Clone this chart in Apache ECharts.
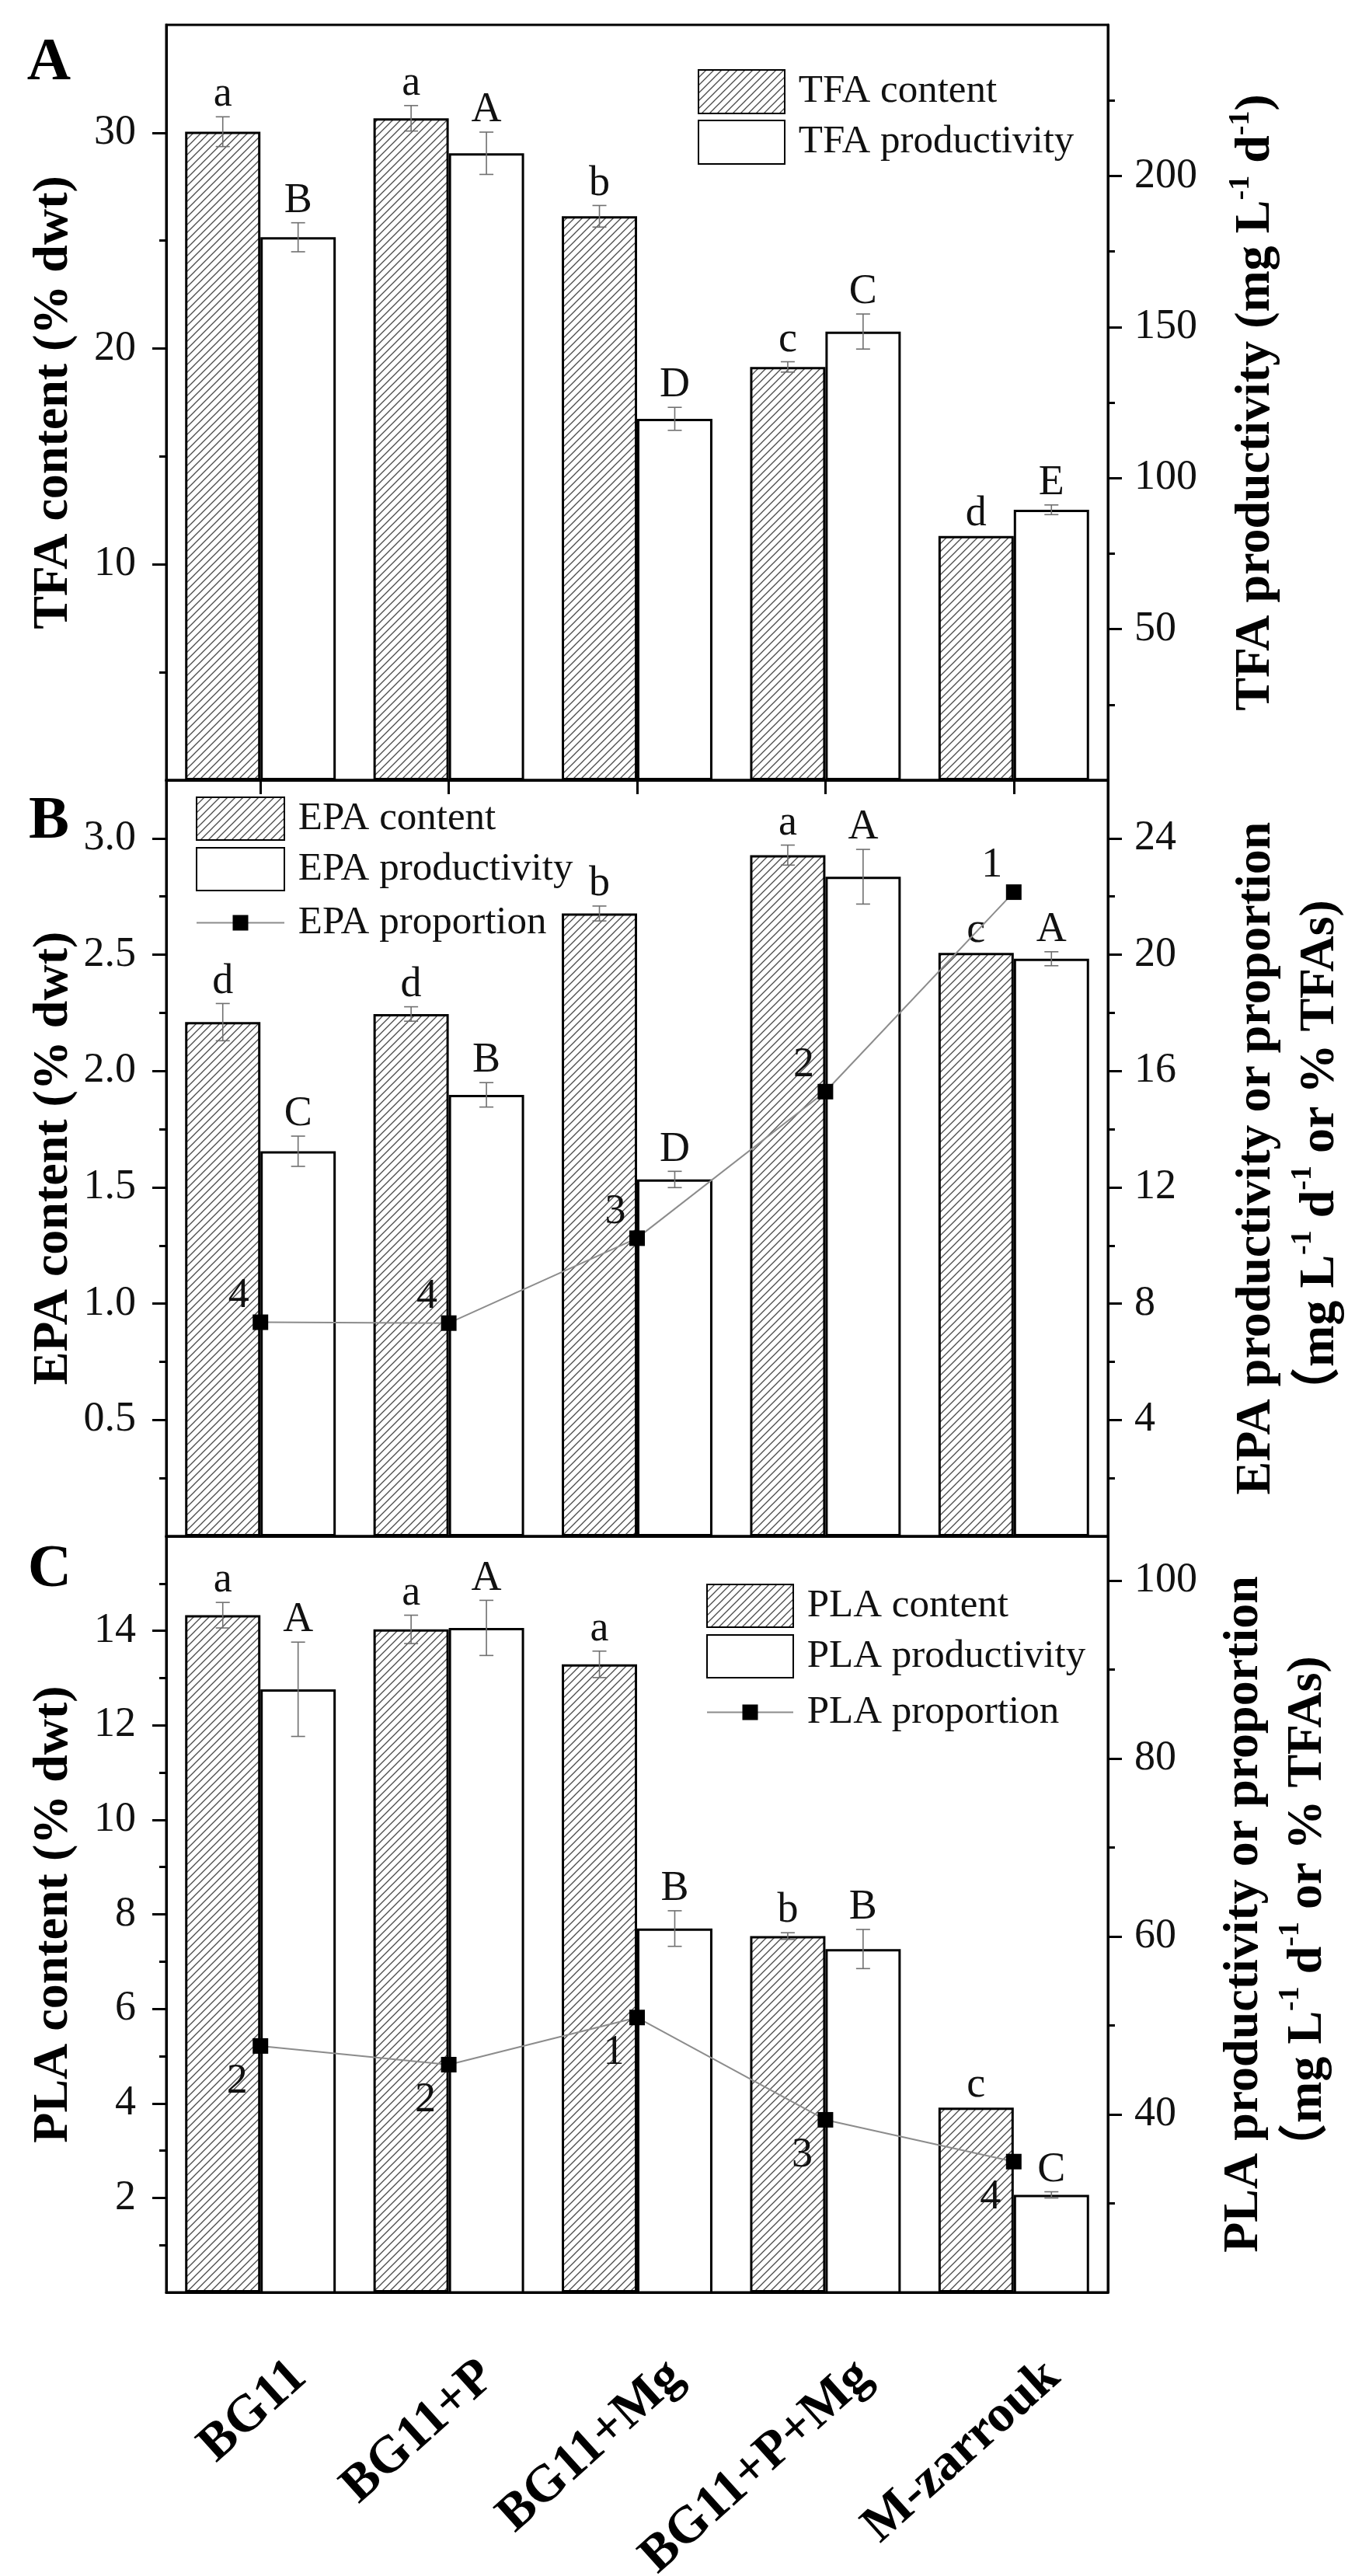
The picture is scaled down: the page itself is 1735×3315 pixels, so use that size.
<!DOCTYPE html>
<html><head><meta charset="utf-8">
<script src="https://cdn.jsdelivr.net/npm/echarts@6/dist/echarts.min.js"></script>
<style>html,body{margin:0;padding:0;background:#fff}#c{width:1735px;height:3315px}</style>
</head><body><div id="c"></div>
<script>
// ---------------- data ----------------
const categories = ['BG11', 'BG11+P', 'BG11+Mg', 'BG11+P+Mg', 'M-zarrouk'];

// Panel A
const tfaContent = [30.05, 30.67, 26.13, 19.15, 11.32];
const tfaContentErr = [0.69, 0.59, 0.5, 0.24, 0];
const tfaContentLetters = ['a', 'a', 'b', 'c', 'd'];
const tfaProd = [179.7, 207.5, 119.6, 148.5, 89.5];
const tfaProdErr = [4.8, 7.0, 3.8, 5.8, 1.6];
const tfaProdLetters = ['B', 'A', 'D', 'C', 'E'];

// Panel B
const epaContent = [2.21, 2.245, 2.677, 2.928, 2.508];
const epaContentErr = [0.08, 0.031, 0.032, 0.043, 0];
const epaContentLetters = ['d', 'd', 'b', 'a', 'c'];
const epaProd = [13.24, 15.18, 12.27, 22.68, 19.86];
const epaProdErr = [0.52, 0.42, 0.28, 0.94, 0.24];
const epaProdLetters = ['C', 'B', 'D', 'A', 'A'];
const epaProp = [7.36, 7.33, 10.25, 15.29, 22.15];
const epaPropRank = ['4', '4', '3', '2', '1'];

// Panel C
const plaContent = [14.33, 14.03, 13.29, 7.54, 3.91];
const plaContentErr = [0.27, 0.3, 0.28, 0.07, 0];
const plaContentLetters = ['a', 'a', 'a', 'b', 'c'];
const plaProd = [87.8, 94.7, 60.9, 58.6, 30.96];
const plaProdErr = [5.3, 3.1, 2.0, 2.2, 0.35];
const plaProdLetters = ['A', 'A', 'B', 'B', 'C'];
const plaProp = [47.7, 45.6, 50.9, 39.4, 34.7];
const plaPropRank = ['2', '2', '1', '3', '4'];

// Axis ranges and tick labels
const aLeftRange = [0, 35], aLeftTicks = [10, 20, 30], aLeftMinor = [5, 15, 25];
const aRightRange = [0, 250], aRightTicks = [50, 100, 150, 200], aRightMinor = [25, 75, 125, 175, 225];
const bLeftRange = [0, 3.25], bLeftTicks = [0.5, 1.0, 1.5, 2.0, 2.5, 3.0], bLeftMinor = [0.25, 0.75, 1.25, 1.75, 2.25, 2.75];
const bRightRange = [0, 26], bRightTicks = [4, 8, 12, 16, 20, 24], bRightMinor = [2, 6, 10, 14, 18, 22];
const cLeftRange = [0, 16], cLeftTicks = [2, 4, 6, 8, 10, 12, 14], cLeftMinor = [1, 3, 5, 7, 9, 11, 13, 15];
const cRightRange = [20, 105], cRightTicks = [40, 60, 80, 100], cRightMinor = [30, 50, 70, 90];

// ---------------- styles ----------------
const FF = "'Liberation Serif', 'Times New Roman', 'Noto Sans CJK SC', serif";

function hatchPattern() {
  const s = 10;
  const c = document.createElement('canvas');
  c.width = s; c.height = s;
  const g = c.getContext('2d');
  g.fillStyle = '#fff'; g.fillRect(0, 0, s, s);
  g.strokeStyle = '#4a4a4a'; g.lineWidth = 1.3;
  g.beginPath();
  g.moveTo(0, s); g.lineTo(s, 0);
  g.moveTo(-2, 2); g.lineTo(2, -2);
  g.moveTo(s - 2, s + 2); g.lineTo(s + 2, s - 2);
  g.stroke();
  return { image: c, repeat: 'repeat' };
}
const HATCH = hatchPattern();

const grids = [
  { left: 214, top: 32, width: 1212, height: 972 },
  { left: 214, top: 1004, width: 1212, height: 973 },
  { left: 214, top: 1977, width: 1212, height: 973 }
].map(g => Object.assign(g, { show: true, borderColor: '#000', borderWidth: 3, backgroundColor: 'transparent', containLabel: false, outerBoundsMode: 'none' }));

const xAxes = [0, 1, 2].map(g => ({
  type: 'category', gridIndex: g, data: categories, boundaryGap: true,
  axisLine: { show: true, lineStyle: { color: '#000', width: 3 } },
  axisTick: { show: g === 0, alignWithLabel: true, length: 18, lineStyle: { color: '#000', width: 3 } },
  axisLabel: {
    show: g === 2, interval: 0, rotate: 42, fontSize: 67, fontWeight: 'bold', fontFamily: FF, color: '#000',
    margin: 44, lineHeight: 150, formatter: v => '\n' + v
  },
  splitLine: { show: false }
}));

function yMajor(grid, pos, range, ticks, fmt, name, nameGap, rich) {
  return {
    type: 'value', gridIndex: grid, position: pos, min: range[0], max: range[1],
    axisLine: { show: true, lineStyle: { color: '#000', width: 3 } },
    axisTick: { show: true, length: 18, customValues: ticks, lineStyle: { color: '#000', width: 3 } },
    axisLabel: {
      show: true, customValues: ticks, formatter: fmt, fontSize: 54, fontFamily: FF, color: '#111',
      margin: pos === 'left' ? 39 : 34
    },
    splitLine: { show: false },
    name: name, nameLocation: 'middle', nameGap: nameGap, nameMoveOverlap: false,
    nameTextStyle: Object.assign({ fontSize: 64, fontWeight: 'bold', fontFamily: FF, color: '#000' }, rich ? { rich: rich } : {})
  };
}
function yMinor(grid, pos, range, ticks) {
  return {
    type: 'value', gridIndex: grid, position: pos, min: range[0], max: range[1],
    axisLine: { show: false },
    axisTick: { show: true, length: 9, customValues: ticks, lineStyle: { color: '#000', width: 3 } },
    axisLabel: { show: false }, splitLine: { show: false }
  };
}
const richSingle = {
  t: { fontSize: 64, fontWeight: 'bold', fontFamily: FF, color: '#000', lineHeight: 76 },
  s: { fontSize: 38, fontWeight: 'bold', fontFamily: FF, color: '#000', verticalAlign: 'top', lineHeight: 38 }
};
const richDouble = {
  t: { fontSize: 64, fontWeight: 'bold', fontFamily: FF, color: '#000', lineHeight: 82 },
  s: { fontSize: 38, fontWeight: 'bold', fontFamily: FF, color: '#000', verticalAlign: 'top', lineHeight: 38 }
};
const intFmt = v => String(v);
const decFmt = v => v.toFixed(1);

const yAxes = [
  // A
  yMajor(0, 'left', aLeftRange, aLeftTicks, intFmt, 'TFA content (% dwt)', 113),
  yMinor(0, 'left', aLeftRange, aLeftMinor),
  yMajor(0, 'right', aRightRange, aRightTicks, intFmt, '{t|TFA productivity (mg L}{s|-1}{t| d}{s|-1}{t|)}', 152, richSingle),
  yMinor(0, 'right', aRightRange, aRightMinor),
  // B
  yMajor(1, 'left', bLeftRange, bLeftTicks, decFmt, 'EPA content (% dwt)', 113),
  yMinor(1, 'left', bLeftRange, bLeftMinor),
  yMajor(1, 'right', bRightRange, bRightTicks, intFmt, '{t|EPA productivity or proportion}\n{t|（mg L}{s|-1}{t| d}{s|-1}{t| or % TFAs)}', 150, richDouble),
  yMinor(1, 'right', bRightRange, bRightMinor),
  // C
  yMajor(2, 'left', cLeftRange, cLeftTicks, intFmt, 'PLA content (% dwt)', 113),
  yMinor(2, 'left', cLeftRange, cLeftMinor),
  yMajor(2, 'right', cRightRange, cRightTicks, intFmt, '{t|PLA productivity or proportion}\n{t|（mg L}{s|-1}{t| d}{s|-1}{t| or % TFAs)}', 134, richDouble),
  yMinor(2, 'right', cRightRange, cRightMinor)
];

function barSeries(name, grid, yIdx, data, hatched) {
  return {
    type: 'bar', name: name, xAxisIndex: grid, yAxisIndex: yIdx, data: data,
    barWidth: '40%', barGap: '0%', z: 2,
    itemStyle: { color: hatched ? HATCH : '#fff', borderColor: '#000', borderWidth: 3 }
  };
}

function errSeries(grid, yIdx, values, errs, letters, side) {
  return {
    type: 'custom', xAxisIndex: grid, yAxisIndex: yIdx, z: 5, silent: true,
    data: values.map((v, i) => [i, v, errs[i]]),
    encode: { x: 0, y: 1 },
    renderItem: function (params, api) {
      const i = api.value(0), v = api.value(1), e = api.value(2);
      const band = api.size([1, 0])[0];
      const x = api.coord([i, v])[0] + side * band * 0.2;
      const yTop = api.coord([i, v + e])[1];
      const yBot = api.coord([i, v - e])[1];
      const children = [];
      const ls = { stroke: '#707070', lineWidth: 1.6 };
      if (e > 0) {
        children.push({ type: 'line', shape: { x1: x, y1: yTop, x2: x, y2: yBot }, style: ls });
        children.push({ type: 'line', shape: { x1: x - 9, y1: yTop, x2: x + 9, y2: yTop }, style: ls });
        children.push({ type: 'line', shape: { x1: x - 9, y1: yBot, x2: x + 9, y2: yBot }, style: ls });
      }
      children.push({
        type: 'text', x: x, y: yTop - 1,
        style: {
          text: letters[params.dataIndex], fontSize: 54, fontFamily: FF, fill: '#111',
          align: 'center', verticalAlign: 'bottom', textAlign: 'center', textVerticalAlign: 'bottom'
        }
      });
      return { type: 'group', children: children };
    }
  };
}

function lineSeries(name, grid, yIdx, data, ranks, pos, offset) {
  return {
    type: 'line', name: name, xAxisIndex: grid, yAxisIndex: yIdx, data: data, z: 6,
    symbol: 'rect', symbolSize: 20,
    lineStyle: { color: '#8c8c8c', width: 2 },
    itemStyle: { color: '#000' },
    label: {
      show: true, position: pos, offset: offset, fontSize: 54, fontFamily: FF, color: '#111',
      formatter: p => ranks[p.dataIndex]
    }
  };
}

const series = [
  barSeries('TFA content', 0, 0, tfaContent, true),
  barSeries('TFA productivity', 0, 2, tfaProd, false),
  errSeries(0, 0, tfaContent, tfaContentErr, tfaContentLetters, -1),
  errSeries(0, 2, tfaProd, tfaProdErr, tfaProdLetters, 1),

  barSeries('EPA content', 1, 4, epaContent, true),
  barSeries('EPA productivity', 1, 6, epaProd, false),
  errSeries(1, 4, epaContent, epaContentErr, epaContentLetters, -1),
  errSeries(1, 6, epaProd, epaProdErr, epaProdLetters, 1),
  lineSeries('EPA proportion', 1, 6, epaProp, epaPropRank, 'top', [-28, 8]),

  barSeries('PLA content', 2, 8, plaContent, true),
  barSeries('PLA productivity', 2, 10, plaProd, false),
  errSeries(2, 8, plaContent, plaContentErr, plaContentLetters, -1),
  errSeries(2, 10, plaProd, plaProdErr, plaProdLetters, 1),
  lineSeries('PLA proportion', 2, 10, plaProp, plaPropRank, 'bottom', [-30, 4])
];

function legend(left, top, names, w, h, gap) {
  return {
    left: left, top: top, orient: 'vertical', itemWidth: w, itemHeight: h, itemGap: gap,
    padding: 0, selectedMode: false, data: names.map(n => ({ name: n, icon: h > 40 ? 'rect' : undefined })),
    formatter: n => ' ' + n,
    textStyle: { fontSize: 51, fontFamily: FF, color: '#111' }
  };
}

const option = {
  animation: false,
  backgroundColor: '#fff',
  grid: grids,
  xAxis: xAxes,
  yAxis: yAxes,
  series: series,
  legend: [
    legend(898, 89, ['TFA content', 'TFA productivity'], 111, 56, 7),
    legend(252, 1025, ['EPA content', 'EPA productivity'], 113, 55, 8),
    legend(252, 1162, ['EPA proportion'], 113, 25, 8),
    legend(909, 2038, ['PLA content', 'PLA productivity'], 111, 55, 8),
    legend(909, 2178, ['PLA proportion'], 111, 25, 8)
  ],
  graphic: [
    { type: 'text', x: 63, y: 82, style: { text: 'A', fontSize: 78, fontWeight: 'bold', fontFamily: FF, fill: '#000', textAlign: 'center', textVerticalAlign: 'middle', align: 'center', verticalAlign: 'middle' } },
    { type: 'text', x: 63, y: 1058, style: { text: 'B', fontSize: 78, fontWeight: 'bold', fontFamily: FF, fill: '#000', textAlign: 'center', textVerticalAlign: 'middle', align: 'center', verticalAlign: 'middle' } },
    { type: 'text', x: 64, y: 2021, style: { text: 'C', fontSize: 78, fontWeight: 'bold', fontFamily: FF, fill: '#000', textAlign: 'center', textVerticalAlign: 'middle', align: 'center', verticalAlign: 'middle' } }
  ]
};

const chart = echarts.init(document.getElementById('c'), null, { renderer: 'canvas' });
chart.setOption(option);
</script>
</body></html>
